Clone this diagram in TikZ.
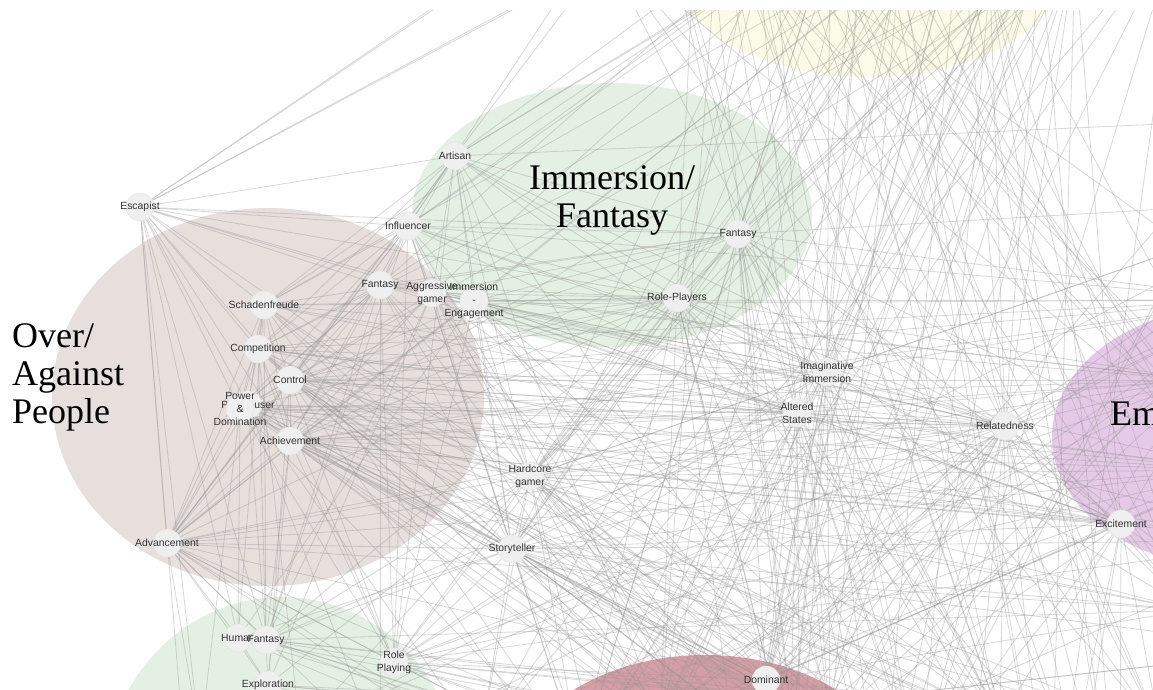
\documentclass[tikz,border=0pt]{standalone}
\usepackage{fontspec}
\setmainfont{Liberation Sans}
\newfontfamily\clusterfont{Liberation Serif}
\definecolor{nodefill}{RGB}{239,239,239}
\definecolor{nodeline}{RGB}{226,226,226}
\definecolor{labcol}{RGB}{51,51,51}
\definecolor{edgecol}{RGB}{150,150,150}
\definecolor{cbrown}{RGB}{231,223,220}
\definecolor{cgreen}{RGB}{229,240,228}
\definecolor{cyellow}{RGB}{251,251,231}
\definecolor{cpurple}{RGB}{229,202,232}
\definecolor{cred}{RGB}{214,158,166}
\pgfdeclarelayer{clusters}
\pgfdeclarelayer{edges}
\pgfsetlayers{clusters,edges,main}
\begin{document}
\begin{tikzpicture}[x=1pt,y=-1pt,
  gn/.style={circle, fill=nodefill, draw=nodeline, line width=0.4pt,
    minimum size=28pt, inner sep=0pt},
  labtext/.style={font=\fontsize{10.4}{13}\selectfont, text=labcol,
    align=center, inner sep=0pt},
  vn/.style={gn, label={[labtext]center:#1}},
  edge/.style={draw=edgecol, opacity=0.36, line width=0.85pt},
  clabel/.style={font=\clusterfont\fontsize{36}{38}\selectfont, text=black,
    inner sep=0pt}
]
\useasboundingbox (0,0) rectangle (1153,689);

% ---------- nodes ----------
\begin{scope}
\clip (0,10) rectangle (1153,689);
\node[vn={Escapist}] (esc) at (140,207) {};
\node[vn={Artisan}] (art) at (455,156) {};
\node[vn={Influencer}] (inf) at (408,226) {};
\node[vn={Fantasy}] (fanl) at (380,285) {};
\node[vn={Aggressive\\gamer}] (agg) at (432,293) {};
\node[vn={Immersion\\-\\Engagement}] (imm) at (474,301) {};
\node[vn={Schadenfreude}] (sch) at (264,305) {};
\node[vn={Competition}] (comp) at (258,349) {};
\node[vn={Control}] (ctrl) at (290,380) {};
\node[vn={Power-user}] (pu) at (248,405) {};
\node[vn={Power\\\&\\Domination}] (pd) at (240,409) {};
\node[vn={Achievement}] (ach) at (290,441) {};
\node[vn={Advancement}] (adv) at (167,543) {};
\node[vn={Hardcore\\gamer}] (hg) at (530,476) {};
\node[vn={Storyteller}] (sto) at (512,549) {};
\node[vn={Fantasy}] (fanr) at (738,234) {};
\node[vn={Role-Players}] (rp) at (677,298) {};
\node[vn={Imaginative\\Immersion}] (ii) at (827,372) {};
\node[vn={Altered\\States}] (as) at (797,413) {};
\node[vn={Relatedness}] (rel) at (1005,426) {};
\node[vn={Excitement}] (exc) at (1121,524) {};
\node[vn={Human}] (hum) at (238,638) {};
\node[vn={Fantasy}] (fanb) at (266,640) {};
\node[vn={Role\\Playing}] (rpl) at (394,662) {};
\node[vn={Exploration}] (expl) at (268,685) {};
\node[vn={Dominant}] (dom) at (766,680) {};
% cluster titles (base anchor sits on the last line)
\node[clabel, align=left, anchor=base west] (tOver) at (12,423) {Over/\\Against\\People};
\node[clabel, align=center, anchor=base] (tImm) at (612,227) {Immersion/\\Fantasy};
\node[clabel, anchor=base west] (tEm) at (1110,425) {Em};
\end{scope}

% nodes lying beyond the visible frame
\coordinate (t1) at (650,-140);  \coordinate (t2) at (700,-170);
\coordinate (t3) at (760,-30);   \coordinate (t4) at (830,-70);
\coordinate (t5) at (900,-40);   \coordinate (t6) at (960,-90);
\coordinate (t7) at (1040,-50);  \coordinate (t8) at (1075,-45);
\coordinate (t9) at (720,-100);  \coordinate (t10) at (770,-130);
\coordinate (t11) at (870,-150); \coordinate (t12) at (990,-20);
\coordinate (t13) at (1180,-80); \coordinate (t14) at (600,-60);
\coordinate (r1) at (1200,380);  \coordinate (r2) at (1240,470);
\coordinate (r3) at (1260,300);  \coordinate (r4) at (1190,610);
\coordinate (r5) at (1320,200);  \coordinate (r6) at (1300,540);
\coordinate (r7) at (1250,120);  \coordinate (r8) at (1300,650);
\coordinate (b1) at (580,760);   \coordinate (b2) at (660,720);
\coordinate (b3) at (740,790);   \coordinate (b4) at (830,730);
\coordinate (b5) at (920,770);   \coordinate (b6) at (1000,720);
\coordinate (b7) at (1080,780);  \coordinate (b8) at (480,740);
\coordinate (b9) at (1160,730);  \coordinate (b10) at (880,830);
\coordinate (b11) at (620,850);  \coordinate (b12) at (1050,860);
\coordinate (b13) at (800,800);  \coordinate (b14) at (790,760);
\coordinate (b15) at (960,900);  \coordinate (b16) at (1120,850);
\coordinate (g1) at (200,740);   \coordinate (g2) at (300,730);
\coordinate (g3) at (380,750);   \coordinate (g4) at (185,760);

% ---------- cluster discs ----------
\begin{pgfonlayer}{clusters}
\clip (0,10) rectangle (1153,689);
\fill[cyellow] (868,-40) ellipse [x radius=200, y radius=117];
\fill[cbrown] (268,397) ellipse [x radius=216, y radius=189];
\fill[cgreen] (612,215) ellipse [x radius=200, y radius=132];
\fill[cpurple] (1240,437) ellipse [x radius=188, y radius=132];
\fill[cgreen] (282,785) ellipse [x radius=178, y radius=188];
\fill[cred] (705,797) ellipse [x radius=200, y radius=142];
\end{pgfonlayer}

% ---------- connections ----------
\begin{pgfonlayer}{edges}
\clip (0,10) rectangle (1153,689);
\foreach \t in {t1,t2,t9,t10,art,inf,fanl,agg,imm,sch,comp,ctrl,pu,pd,ach,adv,hum,fanb,g1,g4,hg,rp,fanr}
  \draw[edge] (esc) -- (\t);
\foreach \t in {t2,t3,t4,t11,inf,fanl,agg,imm,rp,fanr,sch,comp,ctrl,hg,sto,as,ii,rel,b2,b4,rpl,r7,adv}
  \draw[edge] (art) -- (\t);
\foreach \t in {t1,t3,t4,fanl,agg,imm,rp,fanr,sch,comp,ctrl,pd,ach,adv,hg,sto,b1,b3,ii,rel,r3,fanb,rpl,as}
  \draw[edge] (inf) -- (\t);
\foreach \t in {t5,agg,imm,rp,fanr,comp,ctrl,pd,ach,adv,hg,sto,as,b2,b5,rel,fanb,rpl,g3,r1}
  \draw[edge] (fanl) -- (\t);
\foreach \t in {t4,imm,rp,fanr,ii,as,rel,exc,hg,sto,b3,b6,r1,ctrl,ach,adv,fanb,expl,b13}
  \draw[edge] (agg) -- (\t);
\foreach \t in {t6,rp,fanr,ii,as,rel,exc,hg,sto,b4,b7,r2,r3,pd,ach,adv,hum,rpl,dom,b12}
  \draw[edge] (imm) -- (\t);
\foreach \t in {t3,t6,fanr,rp,comp,ctrl,pd,pu,ach,adv,hg,sto,as,rel,b1,b5,fanb,hum,r1,r3,b14}
  \draw[edge] (sch) -- (\t);
\foreach \t in {t12,ctrl,pd,pu,ach,adv,hg,sto,rp,as,ii,rel,exc,b2,b6,dom,fanb,rpl,g2,r2,r3,b13}
  \draw[edge] (comp) -- (\t);
\foreach \t in {t7,pd,pu,ach,adv,hg,sto,rp,fanr,as,ii,rel,exc,b3,b4,b7,dom,rpl,expl,r1,r2,r3,r4,b10,b11}
  \draw[edge] (ctrl) -- (\t);
\foreach \t in {ach,adv,hg,sto,as,rel,b5,b8,fanb,g3,b14,r6}
  \draw[edge] (pu) -- (\t);
\foreach \t in {t11,ach,adv,hg,sto,rp,as,rel,exc,b1,b6,dom,rpl,hum,g1,r1,r2,b12}
  \draw[edge] (pd) -- (\t);
\foreach \t in {t8,adv,hg,sto,rp,fanr,as,ii,rel,exc,b2,b3,b4,b5,b6,b9,dom,rpl,fanb,expl,r1,r2,r3,r4,r6,b13,b10}
  \draw[edge] (ach) -- (\t);
\foreach \t in {t5,hg,sto,rp,as,rel,b1,b3,b8,rpl,fanb,hum,expl,g1,g3,dom,r2,r4,b11}
  \draw[edge] (adv) -- (\t);
\foreach \t in {t3,t5,t6,t7,t8,t12,rp,fanr,ii,as,rel,exc,sto,b1,b2,b3,b4,b5,b6,b7,b8,b9,b10,b11,b12,b14,dom,rpl,fanb,expl,r1,r2,r4,r5,r6,g2,b13}
  \draw[edge] (hg) -- (\t);
\foreach \t in {t4,t6,t8,rp,fanr,ii,as,rel,exc,b1,b2,b3,b4,b5,b6,b7,b8,b9,b10,b11,dom,rpl,fanb,hum,r2,r4,r6,r8,b12,b14}
  \draw[edge] (sto) -- (\t);
\foreach \t in {t1,t4,t6,t7,t8,t11,rp,ii,as,rel,exc,b1,b2,b4,b6,b9,b10,b12,b14,r2,r3,r5,dom,b13}
  \draw[edge] (fanr) -- (\t);
\foreach \t in {t2,t3,t5,t7,t10,t11,ii,as,rel,exc,b1,b2,b3,b5,b6,b7,b10,b13,dom,rpl,fanb,r1,r4,b14}
  \draw[edge] (rp) -- (\t);
\foreach \t in {t2,t4,t6,t7,t8,t11,t12,as,rel,exc,b1,b2,b3,b4,b5,b6,b10,b14,dom,r3,r5,rpl,b13}
  \draw[edge] (ii) -- (\t);
\foreach \t in {t1,t3,t5,t7,t9,t11,rel,exc,b1,b2,b3,b4,b5,b6,b10,b12,b15,dom,r1,r2,r6,rpl,fanb,b13,b14,b11}
  \draw[edge] (as) -- (\t);
\foreach \t in {t3,t4,t6,t7,t8,t11,t12,exc,b1,b2,b3,b4,b5,b6,b7,b9,b10,b11,b12,b14,b15,b16,dom,r1,r3,r4,r5,r8,rpl,b13}
  \draw[edge] (rel) -- (\t);
\foreach \t in {t5,t8,t12,b1,b3,b6,b7,b9,b10,b12,b16,r2,r4,r5,r8,dom}
  \draw[edge] (exc) -- (\t);
\foreach \a/\b in {t1/b5,t2/b6,t3/b7,t4/b9,t5/b4,t6/b3,t7/b1,t8/b10,t4/r4,t6/r6,
    t9/b2,t10/b4,t3/r2,t5/dom,t11/b12,t12/b11,t7/b8,t8/b3,t2/b13,t11/b14,t12/r4,
    t1/r6,t10/b9,t13/b1,t13/b8,t13/b3,t14/b6,t14/b9,t12/b5,t12/b3,t6/b10,t6/b1,
    t5/b12,t5/b8,t4/b6,t4/b1,t3/b5,t3/b12,t7/b14,t7/b13,t8/b13,t8/b2,t9/b6,
    t10/b7,t11/b2,t11/r8,t13/r8,t14/r4,
    t3/r4,t4/r6,t5/r8,t2/r2,t9/r1,t1/r3,t10/r6,t14/r2,t11/r4,t12/b16,t13/b12,
    t13/b5,t7/b16,t6/b16,t8/b12,
    r1/b1,r2/b8,r3/g3,r5/b2,r6/rpl,r3/b3,r7/b11,r7/b5,r5/g2,r1/b10,
    r1/b8,r2/b2,r3/b1,r5/b13,r6/b3,r7/b10,r8/b2,r8/b8,r3/g2,r1/b14,
    fanb/rpl,fanb/expl,hum/fanb,hum/expl,rpl/b1,rpl/b2,rpl/dom,rpl/b5,fanb/b1,
    fanb/b3,fanb/b6,expl/b2,hum/b8,fanb/r4,rpl/r2,hum/b3,expl/b4,
    rpl/b3,rpl/b6,rpl/b9,rpl/b10,rpl/r1,expl/b1,expl/b6,fanb/b9,fanb/b10,hum/b5,
    dom/b4,dom/b6,dom/b9,dom/r4,dom/t6,dom/t7,dom/t12,dom/r2,dom/r3}
  \draw[edge] (\a) -- (\b);
\end{pgfonlayer}
\end{tikzpicture}
\end{document}
